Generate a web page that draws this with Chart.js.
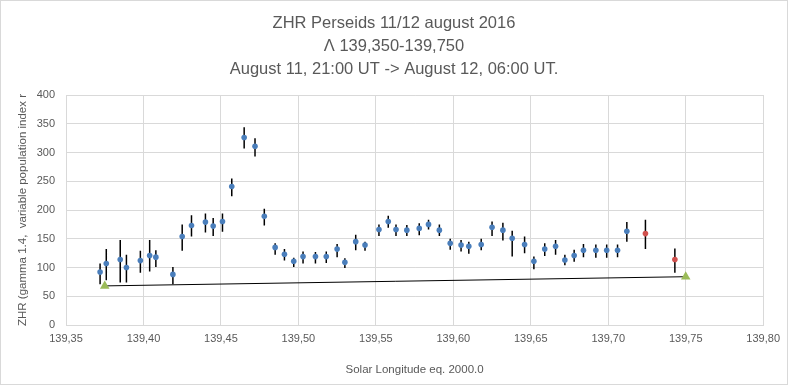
<!DOCTYPE html>
<html>
<head>
<meta charset="utf-8">
<script src="https://cdn.jsdelivr.net/npm/chart.js@4"></script>
<style>
  html, body { margin: 0; padding: 0; background: #fff; }
  #wrap { width: 788px; height: 385px; box-sizing: border-box; border: 1px solid #d9d9d9; background: #fff; }
  canvas { display: block; }
</style>
</head>
<body>
<div id="wrap"><canvas id="c" width="786" height="383"></canvas></div>
<script>
// Solar longitude (eq. 2000.0) of each blue ZHR point
const solLong = [139.372,139.376,139.385,139.389,139.398,139.404,139.408,139.419,139.425,139.431,
  139.440,139.445,139.451,139.457,139.465,139.472,139.478,139.485,139.491,139.497,
  139.503,139.511,139.518,139.525,139.530,139.537,139.543,139.552,139.558,139.563,
  139.570,139.578,139.584,139.591,139.598,139.605,139.610,139.618,139.625,139.632,
  139.638,139.646,139.652,139.659,139.666,139.672,139.678,139.684,139.692,139.699,
  139.706,139.712];
const zhr = [92,107,114,100,112,121,118,88,154,173,
  179,172,180,241,326,311,189,135,123,111,
  119,119,119,132,109,145,139,166,180,166,
  165,168,175,165,142,139,137,140,170,165,
  151,140,111,132,137,113,121,130,130,130,
  130,163];
const zhrLow = [71,78,74,74,91,93,101,71,129,154,
  161,155,162,224,307,293,173,122,112,101,
  107,107,108,118,99,130,129,155,169,155,
  155,156,166,155,131,128,124,130,155,147,
  119,125,97,120,122,104,110,118,117,117,
  118,145];
const zhrHigh = [107,132,148,122,129,148,130,101,175,191,
  194,186,194,255,344,325,202,142,132,117,
  128,127,128,141,116,157,145,175,190,175,
  174,177,183,175,150,148,145,150,180,178,
  164,154,119,142,148,122,131,141,140,140,
  140,179];
// red (uncertain) points
const redLong = [139.724, 139.743];
const redZhr = [159, 114];
const redLow = [132, 91];
const redHigh = [183, 133];
// green reference triangles joined by a line
const refLong = [139.375, 139.75];
const refZhr = [68, 84];

const xTicks = { min: 139.35, max: 139.80, step: 0.05 };
const yTicks = { min: 0, max: 400, step: 50 };

const titleLines = ['ZHR Perseids 11/12 august 2016', '\u039B 139,350-139,750', 'August 11, 21:00 UT -> August 12, 06:00 UT.'];

function pts(xs, ys) { return xs.map((x, i) => ({ x: x, y: ys[i] })); }
function bars(xs, lo, hi) {
  const out = [];
  xs.forEach((x, i) => { out.push({ x: x, y: lo[i] }, { x: x, y: hi[i] }, { x: x, y: null }); });
  return out;
}

const FONT = 'Liberation Sans, Arial, sans-serif';
const GREY = '#595959';
const GRID = '#d9d9d9';

new Chart(document.getElementById('c'), {
  type: 'scatter',
  data: {
    datasets: [
      { label: 'ZHR', data: pts(solLong, zhr), backgroundColor: '#4a7ebb', borderColor: '#4a7ebb',
        pointRadius: 2.8, pointBorderWidth: 0, order: 1 },
      { label: 'ZHR uncertain', data: pts(redLong, redZhr), backgroundColor: '#d0504d', borderColor: '#d0504d',
        pointRadius: 2.8, pointBorderWidth: 0, order: 1 },
      { label: 'error', data: bars(solLong.concat(redLong), zhrLow.concat(redLow), zhrHigh.concat(redHigh)),
        showLine: true, spanGaps: false, borderColor: '#000', borderWidth: 1.5, pointRadius: 0, order: 3 },
      { label: 'ref', data: pts(refLong, refZhr), showLine: true, borderColor: '#000', borderWidth: 1,
        pointStyle: 'triangle', pointRadius: 5.5, backgroundColor: '#9bbb59', pointBorderColor: '#9bbb59',
        pointBorderWidth: 0, order: 2 }
    ]
  },
  options: {
    responsive: false,
    animation: false,
    events: [],
    layout: { padding: 0 },
    plugins: {
      legend: { display: false },
      tooltip: { enabled: false },
      title: {
        display: true, text: titleLines, color: GREY,
        font: { family: FONT, size: 16.5, weight: 'normal', lineHeight: 1.37 },
        padding: { top: 11.5, bottom: 14.7 }
      }
    },
    scales: {
      x: {
        type: 'linear', min: xTicks.min, max: xTicks.max,
        afterFit: s => { s.height = 59; },
        ticks: { stepSize: xTicks.step, color: GREY, padding: 7, maxRotation: 0, autoSkip: false,
          font: { family: FONT, size: 11 },
          callback: v => v.toFixed(2).replace('.', ',') },
        grid: { color: GRID, drawTicks: false },
        border: { color: GRID },
        title: { display: true, text: 'Solar Longitude eq. 2000.0', color: GREY,
          font: { family: FONT, size: 11.5 }, padding: { top: 0, bottom: 7 } }
      },
      y: {
        min: yTicks.min, max: yTicks.max,
        afterFit: s => { s.width = 65; },
        ticks: { stepSize: yTicks.step, color: GREY, padding: 11, font: { family: FONT, size: 11 } },
        grid: { color: GRID, drawTicks: false },
        border: { color: GRID },
        title: { display: true, text: 'ZHR (gamma 1.4,  variable population index r', color: GREY,
          font: { family: FONT, size: 11.5 }, padding: { top: 15, bottom: 0 } }
      }
    }
  }
});
</script>
</body>
</html>
